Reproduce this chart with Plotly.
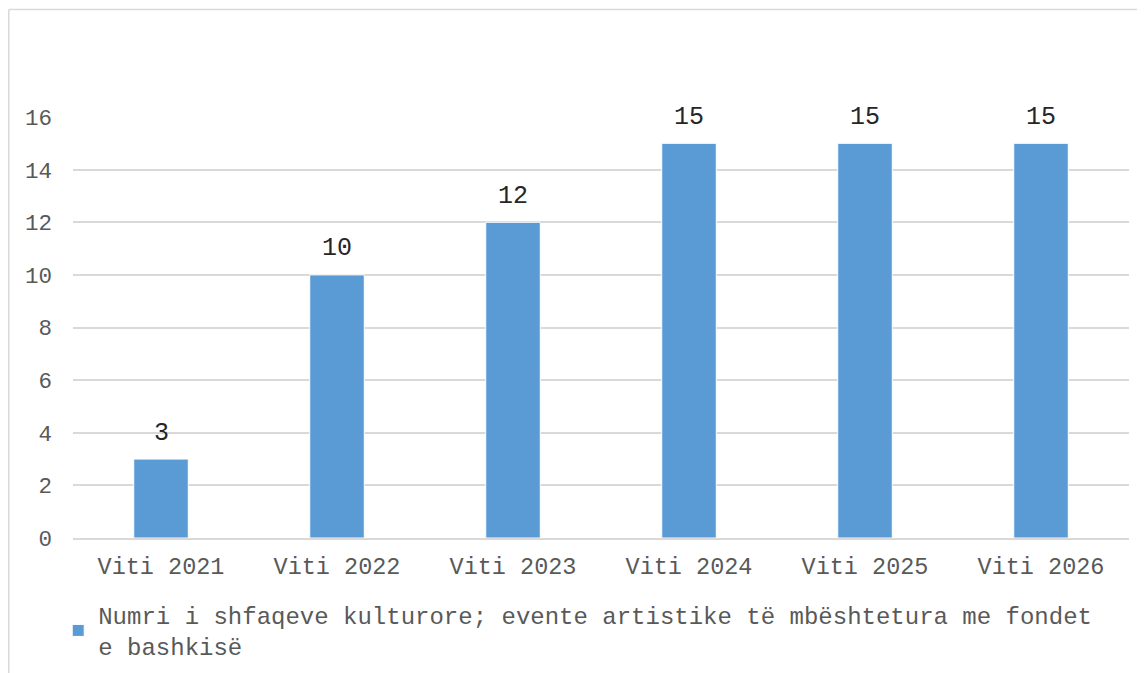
import plotly.graph_objects as go

categories = ["Viti 2021", "Viti 2022", "Viti 2023", "Viti 2024", "Viti 2025", "Viti 2026"]
values = [3, 10, 12, 15, 15, 15]
series_name = "Numri i shfaqeve kulturore; evente artistike të mbështetura me fondet<br>e bashkisë"
y_ticks = [0, 2, 4, 6, 8, 10, 12, 14, 16]

FONT = "Liberation Mono, Courier New, monospace"
GRID = "#d9d9d9"
TICK_COLOR = "#595959"

fig = go.Figure()
fig.add_trace(go.Bar(
    x=categories, y=values, name=series_name,
    marker=dict(color="#5b9bd5", line=dict(color="white", width=1)),
    showlegend=True,
))

for c, v in zip(categories, values):
    fig.add_annotation(x=c, y=v, text=str(v), showarrow=False, yshift=26,
                       font=dict(family=FONT, size=25, color="#262626"))

# page body has an 8px margin, so the figure is 8px smaller and margins shifted
W, H = 1137, 665
L, R, T, B = 65, 16, 109, 135
pw, ph = W - L - R, H - T - B

fig.update_layout(
    width=W, height=H,
    margin=dict(l=L, r=R, t=T, b=B, autoexpand=False),
    paper_bgcolor="white", plot_bgcolor="white",
    bargap=0.69,
    font=dict(family=FONT, size=23.5, color=TICK_COLOR),
    showlegend=True,
    legend=dict(orientation="h", x=-0.014, xanchor="left", y=-0.13, yanchor="top",
                font=dict(family=FONT, size=24, color=TICK_COLOR),
                bgcolor="rgba(0,0,0,0)", itemclick=False),
    xaxis=dict(showgrid=False, showline=True, linecolor=GRID, linewidth=2,
               ticks="", tickfont=dict(family=FONT, size=23.5, color=TICK_COLOR),
               ticklabelstandoff=6),
    yaxis=dict(range=[0, 16], tickvals=y_ticks, showgrid=True, gridcolor=GRID, gridwidth=1.5,
               zeroline=False, showline=False, ticks="",
               tickfont=dict(family=FONT, size=22.5, color=TICK_COLOR),
               ticklabelstandoff=20),
    shapes=[
        dict(type="line", xref="paper", yref="paper",
             x0=(0.75 - L) / pw, x1=1.05, y0=1 + (T - 1.5) / ph, y1=1 + (T - 1.5) / ph,
             line=dict(color=GRID, width=1.5)),
        dict(type="line", xref="paper", yref="paper",
             x0=(0.75 - L) / pw, x1=(0.75 - L) / pw, y0=1 + (T - 1.5) / ph, y1=-0.4,
             line=dict(color=GRID, width=1.5)),
    ],
)

fig.write_html("out.html")
